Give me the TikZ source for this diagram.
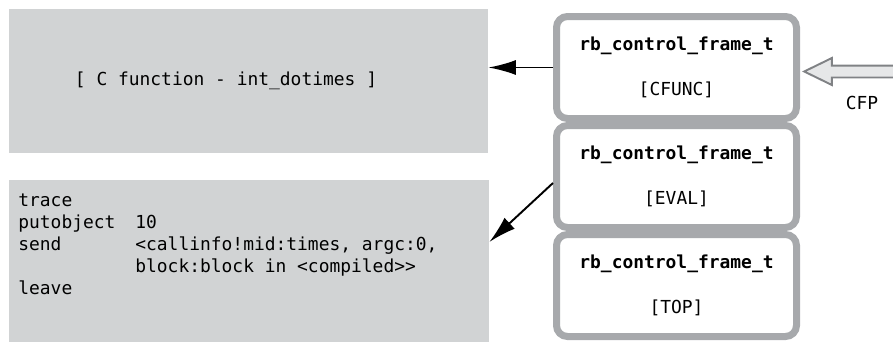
\documentclass[tikz,border=0pt]{standalone}
\usepackage{fontspec}
\setmonofont{DejaVu Sans Mono}
\usetikzlibrary{arrows.meta,positioning,shapes.arrows}
\usepackage{xcolor}
\definecolor{boxgray}{HTML}{D1D3D4}
\definecolor{framegray}{HTML}{A7A9AC}
\definecolor{cfpgray}{HTML}{808285}
\definecolor{cfpfill}{HTML}{E6E7E8}
\tikzset{
  graybox/.style={fill=boxgray, inner sep=0pt},
  framebox/.style={draw=framegray, line width=0.14cm, rounded corners=2.2mm, fill=white, align=center, minimum width=4.8cm, minimum height=2.04cm, inner sep=0pt},
  arrow/.style={-{Latex[length=5.5mm, width=3mm]}, line width=1.1pt, draw=black},
  cfparrow/.style={single arrow, shape border rotate=180, draw=cfpgray, fill=cfpfill, line width=1.1pt, inner sep=0.1cm, minimum height=1.82cm, single arrow head extend=0.15cm, single arrow tip angle=52},
  every node/.style={font=\ttfamily\fontsize{10.2}{12.5}\selectfont}
}
\newcommand{\frametext}[1]{\textbf{rb\_control\_frame\_t}\\[13pt][#1]}

\begin{document}
\begin{tikzpicture}
  \useasboundingbox (0,0) rectangle (17.86,-6.84);
  % left side: C function and ISeq
  \node[graybox, minimum width=9.58cm, minimum height=2.88cm] (cfunc) at (4.97,-1.62) {[ C function - int\_dotimes ]\hspace*{0.9cm}};
  \node[graybox, minimum width=9.6cm, minimum height=3.24cm] (codebox) at (4.98,-5.22) {};
  \node[anchor=north west, inner sep=0pt, align=left] (code) at (0.36,-3.88)
    {trace\\
     \makebox[2.34cm][l]{putobject}10\\
     \makebox[2.34cm][l]{send}<callinfo!mid:times, argc:0,\\
     \makebox[2.34cm][l]{}block:block in <compiled>>\\
     leave};
  % control frame stack
  \node[framebox] (frame1) at (13.53,-1.35) {\frametext{CFUNC}};
  \node[framebox, below=0cm of frame1] (frame2) {\frametext{EVAL}};
  \node[framebox, below=0cm of frame2] (frame3) {\frametext{TOP}};
  \draw[arrow] (frame1.west) -- (cfunc.east |- frame1.west);
  \draw[arrow] ([yshift=-0.13cm]frame2.west) -- ([yshift=0.38cm]codebox.east);
  % CFP pointer
  \node[cfparrow, anchor=tip] (cfp) at ([xshift=0.04cm, yshift=-0.08cm]frame1.east) {};
  \node (cfplabel) at (17.24,-2.06) {CFP};
\end{tikzpicture}
\end{document}
